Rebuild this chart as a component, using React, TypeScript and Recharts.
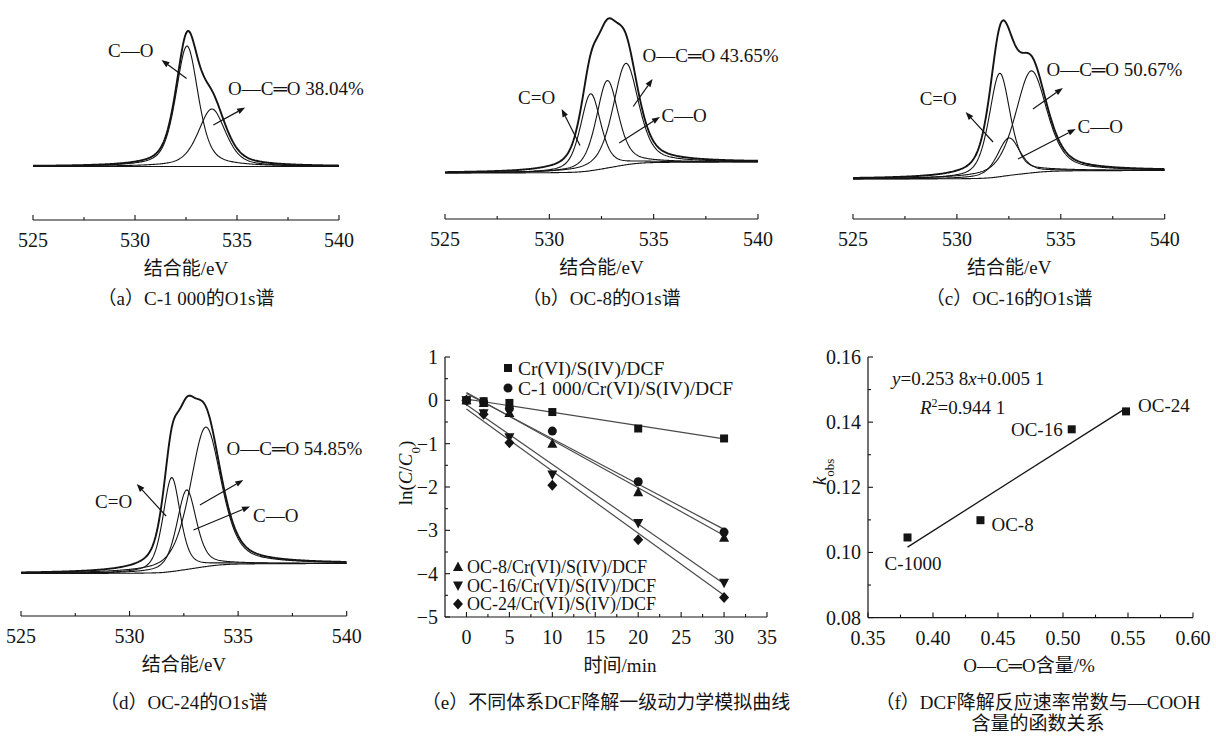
import React from "react";
import {
  LineChart,
  ComposedChart,
  Line,
  Scatter,
  XAxis,
  YAxis,
  ReferenceLine,
  ReferenceDot,
} from "recharts";

const SERIF = "'Liberation Serif', 'Times New Roman', 'Noto Sans CJK SC', serif";
const INK = "#141414";

// O1s fits: peak centre (eV), height (a.u.), FWHM (eV); background = [low BE, high BE]
const energyTicks = [525, 527.5, 530, 532.5, 535, 537.5, 540];

const c1000Centers = [532.55, 533.77];
const c1000Heights = [24.1, 11.5];
const c1000Fwhm = [1.3, 1.6];
const c1000Background = [10.7, 10.7];

const oc8Centers = [531.98, 532.78, 533.67];
const oc8Heights = [15.4, 17.5, 20.3];
const oc8Fwhm = [1.15, 1.25, 1.45];
const oc8Background = [9.2, 11.4];

const oc16Centers = [532.06, 532.5, 533.58];
const oc16Heights = [20.7, 7.5, 20.4];
const oc16Fwhm = [1.2, 1.3, 1.8];
const oc16Background = [8.0, 9.7];

const oc24Centers = [531.94, 532.63, 533.51];
const oc24Heights = [18.8, 15.9, 27.9];
const oc24Fwhm = [0.95, 1.07, 1.7];
const oc24Background = [8.5, 10.5];

// first-order kinetics, ln(C/C0) vs time (min)
const times = [0, 2, 5, 10, 20, 30];
const systems = [
  "Cr(VI)/S(IV)/DCF",
  "C-1 000/Cr(VI)/S(IV)/DCF",
  "OC-8/Cr(VI)/S(IV)/DCF",
  "OC-16/Cr(VI)/S(IV)/DCF",
  "OC-24/Cr(VI)/S(IV)/DCF",
];
const lnCrS = [0, -0.02, -0.06, -0.27, -0.65, -0.88];
const lnC1000 = [0, -0.04, -0.19, -0.71, -1.88, -3.04];
const lnOC8 = [0, -0.06, -0.29, -1.0, -2.12, -3.17];
const lnOC16 = [0, -0.3, -0.85, -1.71, -2.83, -4.21];
const lnOC24 = [0, -0.32, -0.98, -1.96, -3.22, -4.55];

// rate constant vs O-C=O fraction
const samples = ["C-1000", "OC-8", "OC-16", "OC-24"];
const ococContent = [0.3804, 0.4365, 0.5067, 0.5485];
const kObs = [0.1046, 0.1099, 0.1378, 0.1433];
const kSlope = 0.2538;
const kIntercept = 0.0051;

const fitIntercepts = [0.03, 0.16, 0.18, -0.1, -0.2];
const fitSlopes = [-0.0306, ...kObs.map((k) => -k)];

function pseudoVoigt(e: number, c: number, h: number, w: number) {
  const d = (e - c) / w;
  return h * (0.5 / (1 + 4 * d * d) + 0.5 * Math.exp(-4 * Math.LN2 * d * d));
}

// fitted components sitting on a Shirley-type step background
function buildSpectrum(centers: number[], heights: number[], fwhm: number[], background: number[]) {
  const raw: { e: number; comps: number[]; sum: number }[] = [];
  for (let i = 0; i <= 300; i++) {
    const e = 525 + i * 0.05;
    const comps = centers.map((c, k) => pseudoVoigt(e, c, heights[k], fwhm[k]));
    raw.push({ e, comps, sum: comps.reduce((a, b) => a + b, 0) });
  }
  const total = raw.reduce((a, r) => a + r.sum, 0);
  let acc = 0;
  return raw.map((r) => {
    acc += r.sum;
    const bg = background[0] + ((background[1] - background[0]) * acc) / total;
    const row: Record<string, number> = { e: r.e, bg, env: bg + r.sum };
    r.comps.forEach((v, k) => (row[`p${k}`] = bg + v));
    return row;
  });
}

const fmtNum = (v: number) => (v < 0 ? `\u2212${Math.abs(v)}` : `${v}`);

const bottomTick =
  (isMajor: (v: number) => boolean, fmt: (v: number) => string) => (props: any) => {
    const { x, y, payload } = props;
    const major = isMajor(payload.value);
    return (
      <g>
        <line x1={x} y1={y} x2={x} y2={y - (major ? 5 : 3)} stroke={INK} strokeWidth={1.1} />
        {major && (
          <text x={x} y={y + 27} textAnchor="middle" fontSize={20} fontFamily={SERIF} fill={INK}>
            {fmt(payload.value)}
          </text>
        )}
      </g>
    );
  };

const leftTick =
  (isMajor: (v: number) => boolean, fmt: (v: number) => string) => (props: any) => {
    const { x, y, payload } = props;
    const major = isMajor(payload.value);
    return (
      <g>
        <line x1={x} y1={y} x2={x + (major ? 5 : 3)} y2={y} stroke={INK} strokeWidth={1.1} />
        {major && (
          <text x={x - 7} y={y + 7} textAnchor="end" fontSize={20} fontFamily={SERIF} fill={INK}>
            {fmt(payload.value)}
          </text>
        )}
      </g>
    );
  };

const Arrow = (p: any) => {
  const { x1, y1, x2, y2 } = p;
  const a = Math.atan2(y2 - y1, x2 - x1);
  const len = 8;
  const half = 3;
  const bx = x2 - len * Math.cos(a);
  const by = y2 - len * Math.sin(a);
  const pts = `${x2},${y2} ${bx - half * Math.sin(a)},${by + half * Math.cos(a)} ${bx + half * Math.sin(a)},${by - half * Math.cos(a)}`;
  return (
    <g>
      <line x1={x1} y1={y1} x2={bx} y2={by} stroke={INK} strokeWidth={1.2} />
      <polygon points={pts} fill={INK} />
    </g>
  );
};

const noteText = (text: string) => (p: any) =>
  (
    <text x={p.cx} y={p.cy} dy="0.35em" fontSize={19} fontFamily={SERIF} fill={INK}>
      {text}
    </text>
  );

function Txt({ x, y, size = 19, children }: { x: number; y: number; size?: number; children: React.ReactNode }) {
  return (
    <div
      style={{
        position: "absolute",
        left: x,
        top: y,
        transform: "translate(-50%, -50%)",
        fontFamily: SERIF,
        fontSize: size,
        lineHeight: 1,
        whiteSpace: "nowrap",
        color: INK,
      }}
    >
      {children}
    </div>
  );
}

type Note = { text: string; at: [number, number]; from: [number, number]; to: [number, number] };

interface XpsPanelProps {
  plotLeft: number;
  plotWidth: number;
  axisY: number;
  captionY: number;
  centers: number[];
  heights: number[];
  fwhm: number[];
  background: number[];
  notes: Note[];
  caption: string;
}

const xpsTick = bottomTick((v) => v % 5 === 0, (v) => `${v}`);

function XpsPanel(props: XpsPanelProps) {
  const { plotLeft, plotWidth, axisY, captionY, centers, heights, fwhm, background, notes, caption } = props;
  const rows = buildSpectrum(centers, heights, fwhm, background);
  const mid = plotLeft + plotWidth / 2;
  return (
    <>
      <div style={{ position: "absolute", left: plotLeft - 20, top: axisY - 240 }}>
        <LineChart
          width={plotWidth + 90}
          height={270}
          data={rows}
          margin={{ top: 0, right: 70, bottom: 0, left: 20 }}
        >
          <XAxis
            type="number"
            dataKey="e"
            domain={[525, 540]}
            ticks={energyTicks}
            interval={0}
            tick={xpsTick}
            tickLine={false}
            tickSize={0}
            tickMargin={0}
            height={30}
            axisLine={{ stroke: INK, strokeWidth: 1.2 }}
            allowDataOverflow
          />
          <YAxis hide domain={[0, 48]} allowDataOverflow />
          <Line dataKey="bg" stroke={INK} strokeWidth={1.1} dot={false} isAnimationActive={false} />
          {centers.map((_, k) => (
            <Line
              key={k}
              dataKey={`p${k}`}
              stroke={INK}
              strokeWidth={1.1}
              dot={false}
              isAnimationActive={false}
            />
          ))}
          <Line dataKey="env" stroke={INK} strokeWidth={1.9} dot={false} isAnimationActive={false} />
          {notes.map((n, i) => (
            <ReferenceLine
              key={`a${i}`}
              segment={[
                { x: n.from[0], y: n.from[1] },
                { x: n.to[0], y: n.to[1] },
              ]}
              shape={Arrow}
            />
          ))}
          {notes.map((n, i) => (
            <ReferenceDot key={`t${i}`} x={n.at[0]} y={n.at[1]} r={0} shape={noteText(n.text)} />
          ))}
        </LineChart>
      </div>
      <Txt x={mid} y={axisY + 48}>结合能/eV</Txt>
      <Txt x={mid} y={captionY}>{caption}</Txt>
    </>
  );
}

// marker shapes for the kinetics plot
const markers = [
  (p: any) => <rect x={p.cx - 4} y={p.cy - 4} width={8} height={8} fill={INK} />,
  (p: any) => <circle cx={p.cx} cy={p.cy} r={4.5} fill={INK} />,
  (p: any) => (
    <polygon points={`${p.cx},${p.cy - 5.5} ${p.cx + 5},${p.cy + 4} ${p.cx - 5},${p.cy + 4}`} fill={INK} />
  ),
  (p: any) => (
    <polygon points={`${p.cx},${p.cy + 5.5} ${p.cx + 5},${p.cy - 4} ${p.cx - 5},${p.cy - 4}`} fill={INK} />
  ),
  (p: any) => (
    <polygon
      points={`${p.cx},${p.cy - 5.5} ${p.cx + 5},${p.cy} ${p.cx},${p.cy + 5.5} ${p.cx - 5},${p.cy}`}
      fill={INK}
    />
  ),
];

const kineticSeries = [lnCrS, lnC1000, lnOC8, lnOC16, lnOC24].map((vals) =>
  times.map((t, i) => ({ t, v: vals[i] }))
);
const kineticFits = fitIntercepts.map((b, i) => [
  { t: 0, v: b },
  { t: 30, v: b + fitSlopes[i] * 30 },
]);

const timeTicks = [0, 2.5, 5, 7.5, 10, 12.5, 15, 17.5, 20, 22.5, 25, 27.5, 30, 32.5, 35];
const lnTicks = [-5, -4.5, -4, -3.5, -3, -2.5, -2, -1.5, -1, -0.5, 0, 0.5, 1];

function KineticsPanel() {
  return (
    <div style={{ position: "absolute", left: 400, top: 346.7 }}>
      <ComposedChart width={382} height={305} margin={{ top: 10, right: 15, bottom: 0, left: 0 }}>
        <XAxis
          type="number"
          dataKey="t"
          domain={[-2.5, 35]}
          ticks={timeTicks}
          interval={0}
          tick={bottomTick((v) => v % 5 === 0, fmtNum)}
          tickLine={false}
          tickSize={0}
          tickMargin={0}
          height={35}
          axisLine={{ stroke: INK, strokeWidth: 1.2 }}
          allowDataOverflow
        />
        <YAxis
          type="number"
          domain={[-5, 1]}
          ticks={lnTicks}
          interval={0}
          tick={leftTick((v) => Number.isInteger(v), fmtNum)}
          tickLine={false}
          tickSize={0}
          tickMargin={0}
          width={45}
          axisLine={{ stroke: INK, strokeWidth: 1.2 }}
          allowDataOverflow
        />
        {kineticFits.map((d, i) => (
          <Line
            key={`f${i}`}
            data={d}
            dataKey="v"
            stroke="#4a4a4a"
            strokeWidth={1.2}
            dot={false}
            isAnimationActive={false}
          />
        ))}
        {kineticSeries.map((d, i) => (
          <Scatter key={`s${i}`} data={d} dataKey="v" shape={markers[i]} isAnimationActive={false} />
        ))}
      </ComposedChart>
    </div>
  );
}

// label placement next to each sample point: [dx, dy, anchor]
const sampleLabelOffsets: [number, number, string][] = [
  [-23, 26, "start"],
  [11, 4, "start"],
  [-9, 0, "end"],
  [12, -6, "start"],
];

const rateData = samples.map((name, i) => ({ name, x: ococContent[i], k: kObs[i] }));
const rateFit = [ococContent[0], ococContent[ococContent.length - 1]].map((x) => ({
  x,
  k: kSlope * x + kIntercept,
}));

const rateShape = (p: any) => {
  const i = samples.indexOf(p.payload?.name);
  const [dx, dy, anchor] = sampleLabelOffsets[i] ?? [0, 0, "start"];
  return (
    <g>
      <rect x={p.cx - 4} y={p.cy - 4} width={8} height={8} fill={INK} />
      <text
        x={p.cx + dx}
        y={p.cy + dy + 7}
        textAnchor={anchor as any}
        fontSize={19}
        fontFamily={SERIF}
        fill={INK}
      >
        {p.payload?.name}
      </text>
    </g>
  );
};

const contentTicks = [0.35, 0.375, 0.4, 0.425, 0.45, 0.475, 0.5, 0.525, 0.55, 0.575, 0.6];
const kTicks = [0.08, 0.09, 0.1, 0.11, 0.12, 0.13, 0.14, 0.15, 0.16];

function RatePanel() {
  return (
    <div style={{ position: "absolute", left: 808.3, top: 346.7 }}>
      <ComposedChart width={407.7} height={305.6} margin={{ top: 10, right: 22.7, bottom: 0, left: 0 }}>
        <XAxis
          type="number"
          dataKey="x"
          domain={[0.35, 0.6]}
          ticks={contentTicks}
          interval={0}
          tick={bottomTick((v) => Math.round(v * 1000) % 50 === 0, (v) => v.toFixed(2))}
          tickLine={false}
          tickSize={0}
          tickMargin={0}
          height={35}
          axisLine={{ stroke: INK, strokeWidth: 1.2 }}
          allowDataOverflow
        />
        <YAxis
          type="number"
          domain={[0.08, 0.16]}
          ticks={kTicks}
          interval={0}
          tick={leftTick((v) => Math.round(v * 100) % 2 === 0, (v) => v.toFixed(2))}
          tickLine={false}
          tickSize={0}
          tickMargin={0}
          width={60}
          axisLine={{ stroke: INK, strokeWidth: 1.2 }}
          allowDataOverflow
        />
        <Line
          data={rateFit}
          dataKey="k"
          stroke={INK}
          strokeWidth={1.3}
          dot={false}
          isAnimationActive={false}
        />
        <Scatter data={rateData} dataKey="k" shape={rateShape} isAnimationActive={false} />
      </ComposedChart>
    </div>
  );
}

const legendTop = [0, 1];
const legendBottom = [2, 3, 4];

export default function App() {
  return (
    <div
      style={{
        position: "absolute",
        left: 0,
        top: 0,
        width: 1216,
        height: 736,
        background: "#fff",
        overflow: "hidden",
      }}
    >
      <XpsPanel
        plotLeft={33}
        plotWidth={306}
        axisY={220}
        captionY={298}
        centers={c1000Centers}
        heights={c1000Heights}
        fwhm={c1000Fwhm}
        background={c1000Background}
        caption="（a）C-1 000的O1s谱"
        notes={[
          { text: "C—O", at: [528.68, 34], from: [532.53, 28.3], to: [531.3, 32] },
          { text: "O—C═O 38.04%", at: [534.56, 26.4], from: [533.84, 19], to: [535.4, 22.5] },
        ]}
      />
      <XpsPanel
        plotLeft={445}
        plotWidth={313}
        axisY={218.5}
        captionY={298}
        centers={oc8Centers}
        heights={oc8Heights}
        fwhm={oc8Fwhm}
        background={oc8Background}
        caption="（b）OC-8的O1s谱"
        notes={[
          { text: "C=O", at: [528.5, 24.3], from: [531.47, 14.7], to: [530.59, 22.0] },
          { text: "O—C═O 43.65%", at: [534.47, 32.7], from: [534.02, 22.5], to: [534.95, 28] },
          { text: "C—O", at: [535.37, 20.7], from: [533.35, 15.2], to: [535.3, 20.4] },
        ]}
      />
      <XpsPanel
        plotLeft={853.3}
        plotWidth={311.7}
        axisY={218.5}
        captionY={298}
        centers={oc16Centers}
        heights={oc16Heights}
        fwhm={oc16Fwhm}
        background={oc16Background}
        caption="（c）OC-16的O1s谱"
        notes={[
          { text: "C=O", at: [528.21, 24.1], from: [531.74, 15.4], to: [530.42, 21.4] },
          { text: "O—C═O 50.67%", at: [534.31, 29.9], from: [533.66, 22], to: [535.1, 26.2] },
          { text: "C—O", at: [535.81, 18.6], from: [532.94, 12], to: [535.72, 18] },
        ]}
      />
      <XpsPanel
        plotLeft={21}
        plotWidth={325.7}
        axisY={616}
        captionY={702}
        centers={oc24Centers}
        heights={oc24Heights}
        fwhm={oc24Fwhm}
        background={oc24Background}
        caption="（d）OC-24的O1s谱"
        notes={[
          { text: "C=O", at: [528.41, 22.9], from: [531.68, 20.0], to: [530.33, 26.4] },
          { text: "O—C═O 54.85%", at: [534.47, 33.5], from: [533.24, 22.2], to: [535.24, 27.2] },
          { text: "C—O", at: [535.69, 20.2], from: [532.94, 17.2], to: [535.55, 21.9] },
        ]}
      />

      <KineticsPanel />
      <Txt x={620} y={665}>时间/min</Txt>
      <Txt x={606} y={702}>（e）不同体系DCF降解一级动力学模拟曲线</Txt>

      <RatePanel />
      <Txt x={1029} y={665}>O—C═O含量/%</Txt>
      <Txt x={1038} y={702}>（f）DCF降解反应速率常数与—COOH</Txt>
      <Txt x={1038} y={723}>含量的函数关系</Txt>

      <svg
        width={1216}
        height={736}
        style={{ position: "absolute", left: 0, top: 0, pointerEvents: "none" }}
        fontFamily={SERIF}
        fill={INK}
      >
        {legendTop.map((s, r) => (
          <g key={`lt${s}`}>
            {markers[s]({ cx: 508, cy: 368 + r * 20 })}
            <text x={518} y={368 + r * 20 + 6.5} fontSize={19.5}>
              {systems[s]}
            </text>
          </g>
        ))}
        {legendBottom.map((s, r) => (
          <g key={`lb${s}`}>
            {markers[s]({ cx: 458, cy: 567 + r * 18.5 })}
            <text x={467} y={567 + r * 18.5 + 6} fontSize={18}>
              {systems[s]}
            </text>
          </g>
        ))}
        <text transform="translate(412,473) rotate(-90)" textAnchor="middle" fontSize={19}>
          ln(<tspan fontStyle="italic">C</tspan>/<tspan fontStyle="italic">C</tspan>
          <tspan baselineShift="sub" fontSize={13}>
            0
          </tspan>
          )
        </text>
        <text transform="translate(826,472) rotate(-90)" textAnchor="middle" fontSize={19}>
          <tspan fontStyle="italic">k</tspan>
          <tspan baselineShift="sub" fontSize={13}>
            obs
          </tspan>
        </text>
        <text x={892} y={385} fontSize={19}>
          <tspan fontStyle="italic">y</tspan>=0.253 8<tspan fontStyle="italic">x</tspan>+0.005 1
        </text>
        <text x={920} y={414} fontSize={19}>
          <tspan fontStyle="italic">R</tspan>
          <tspan baselineShift="super" fontSize={12}>
            2
          </tspan>
          =0.944 1
        </text>
      </svg>
    </div>
  );
}
